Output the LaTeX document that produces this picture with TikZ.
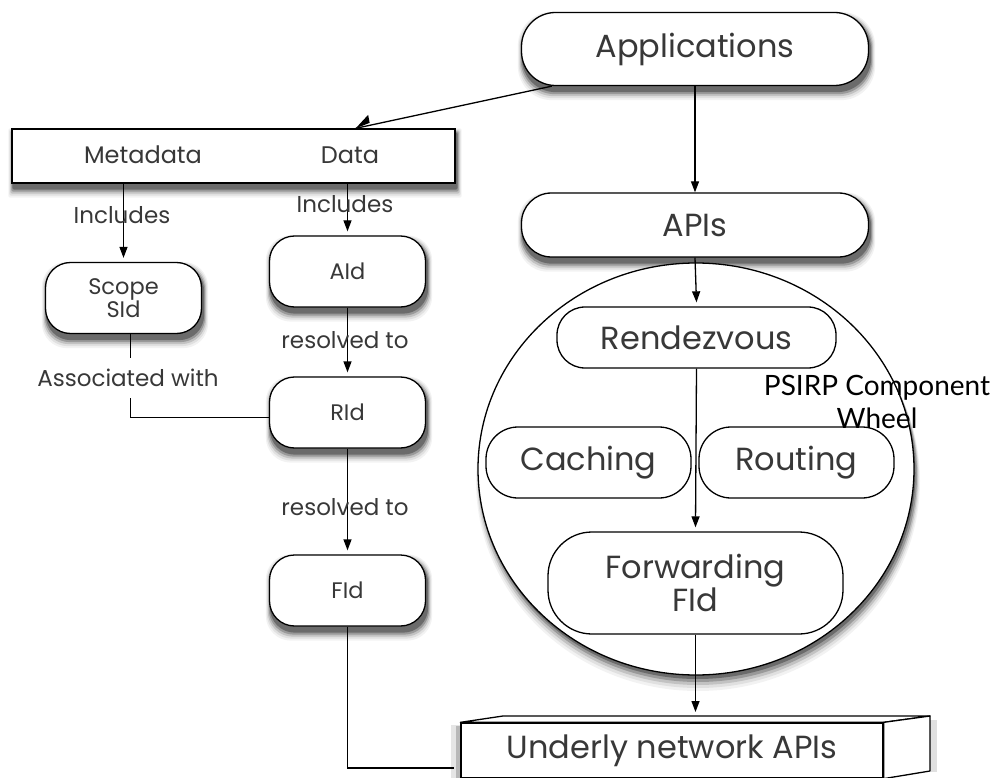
\documentclass[tikz,border=0pt]{standalone}
\usepackage{fontspec}
\setmainfont{Poppins}
\newfontfamily\wheelfont{Lato}
\usetikzlibrary{shapes.geometric,arrows.meta}

\definecolor{ink}{gray}{0.22}
\pgfdeclarelayer{shadowlayer}
\pgfsetlayers{shadowlayer,main}

% soft shadow under a rectangular node: node name, corner radius
\newcommand\castshadow[2]{%
  \fill[black!5, rounded corners=#2] ([shift={(-3,0)}]#1.north west) rectangle ([shift={(6,14)}]#1.south east);
  \fill[black!12, rounded corners=#2] ([shift={(-2,1)}]#1.north west) rectangle ([shift={(5,12)}]#1.south east);
  \fill[black!24, rounded corners=#2] ([shift={(-1,2)}]#1.north west) rectangle ([shift={(4,10)}]#1.south east);
  \fill[black!40, rounded corners=#2] ([shift={(0,3)}]#1.north west) rectangle ([shift={(3,8)}]#1.south east);
  \fill[black!58, rounded corners=#2] ([shift={(1,4)}]#1.north west) rectangle ([shift={(2,6)}]#1.south east);
}

\tikzset{
  line/.style={line width=1.3pt, draw=black},
  arrow/.style={line, -{Triangle[length=11pt,width=8pt]}},
  pill/.style={draw, line width=1.3pt, fill=white, text=ink, inner sep=0pt},
  bigpill/.style={pill, rounded corners=34pt, minimum width=347pt,
      font=\fontsize{32}{34}\selectfont},
  idbox/.style={pill, rounded corners=25pt, minimum width=156pt,
      minimum height=71pt, align=center, font=\fontsize{22.5}{23}\selectfont},
  inner/.style={pill, align=center, font=\fontsize{32}{33}\selectfont},
  small/.style={text=ink, inner sep=1pt, font=\fontsize{23}{24}\selectfont},
}

\begin{document}
\begin{tikzpicture}[x=1pt,y=-1pt]
\useasboundingbox (0,0) rectangle (991,778);

% top of the stack
\node[bigpill, minimum height=73pt] (app) at (695,49) {Applications};
\node[bigpill, minimum height=64pt, rounded corners=30pt] (apis) at (695,225) {APIs};

% metadata / data bar
\node[draw, line width=1.3pt, fill=white, minimum width=443pt,
      minimum height=54pt, inner sep=0pt] (meta) at (233.5,156) {};
\node[small, font=\fontsize{24}{24}\selectfont] (metatxt) at (143,155) {Metadata};
\node[small, font=\fontsize{24}{24}\selectfont] (datatxt) at (350,155) {Data};

% identifier chain
\node[idbox] (scope) at (123.5,298) {Scope\\SId};
\node[idbox] (aid) at (347.5,271.5) {AId};
\node[idbox] (rid) at (347.5,412.5) {RId};
\node[idbox] (fid) at (347.5,590.5) {FId};

% component wheel
\node[ellipse, draw, line width=1.3pt, fill=white,
      minimum width=436pt, minimum height=412pt] (wheel) at (696,469) {};
\node[inner, rounded corners=28pt, minimum width=279pt, minimum height=61pt]
      (rdv) at (696.5,337.5) {Rendezvous};
\node[inner, rounded corners=32pt, minimum width=205pt, minimum height=71pt]
      (cache) at (588.5,462.5) {Caching};
\node[inner, rounded corners=32pt, minimum width=195pt, minimum height=71pt]
      (route) at (796.5,462.5) {Routing};
\node[inner, rounded corners=44pt, minimum width=295pt, minimum height=102pt]
      (fwd) at (695.5,583) {Forwarding\\FId};
\node[inner sep=0pt, align=center, text=black,
      font=\wheelfont\fontsize{28}{33}\selectfont] (wheeltxt) at (877,402)
      {PSIRP Component\\Wheel};

% underlying network block
\coordinate (toprow) at (0,716);
\node[draw, line width=1.3pt, fill=white, minimum width=422pt, minimum height=55pt,
      inner sep=0pt, text=ink, font=\fontsize{32}{33}\selectfont]
      (net) at (672,750.5) {Underly network APIs};
\draw[line, fill=white, line join=round]
      (net.north west) -- (503,716) -- (930,716) -- (net.north east) -- cycle;
\draw[line, fill=white, line join=round]
      (net.north east) -- (930,716) -- (930,771) -- (net.south east) -- cycle;

% shadows beneath the framed shapes
\begin{pgfonlayer}{shadowlayer}
  \castshadow{app}{34pt}
  \castshadow{apis}{30pt}
  \castshadow{meta}{2pt}
  \castshadow{scope}{25pt}
  \castshadow{aid}{25pt}
  \castshadow{rid}{25pt}
  \castshadow{fid}{25pt}
  \fill[black!5]  ([shift={(2,12)}]wheel.center) ellipse [x radius=222, y radius=210];
  \fill[black!12] ([shift={(2,10)}]wheel.center) ellipse [x radius=221, y radius=209];
  \fill[black!24] ([shift={(2,8)}]wheel.center) ellipse [x radius=220, y radius=208];
  \fill[black!40] ([shift={(2,6)}]wheel.center) ellipse [x radius=219, y radius=207];
  \fill[black!58] ([shift={(1.5,4)}]wheel.center) ellipse [x radius=218, y radius=206];
  \fill[black!10] (451,725) rectangle (461,778);
  \fill[black!28] (456,726) rectangle (461,778);
  \fill[black!12] (930,720) rectangle (937,772);
\end{pgfonlayer}

% connectors
\draw[line] ([xshift=31pt]app.south west) -- ([xshift=-100pt]meta.north east);
\fill ([xshift=-100pt]meta.north east) -- ++(14,-5.5) -- ++(-1.5,-8) -- cycle;
\draw[arrow] (app.south) -- (apis.north);
\draw[arrow] (apis.south) -- ([yshift=4pt]rdv.north);
\draw[arrow] (rdv.south) -- ([yshift=4pt]fwd.north);
\draw[arrow] (fwd.south) -- ([yshift=4pt]fwd.south |- toprow);

\draw[arrow] (scope.north |- meta.south) -- ([yshift=4pt]scope.north);
\draw[arrow] (aid.north |- meta.south) -- ([yshift=4pt]aid.north);
\draw[arrow] (aid.south) -- ([yshift=4pt]rid.north);
\draw[arrow] (rid.south) -- ([yshift=4pt]fid.north);

\draw[line] ([xshift=7pt]scope.south) |- ([yshift=-5pt]rid.west);
\draw[line] (fid.south) |- ([xshift=-6pt,yshift=-17.5pt]net.west);

% connector labels
\node[small] (inc1) at (122,215) {Includes};
\node[small] (inc2) at (345,204) {Includes};
\node[small] (res1) at (345,340) {resolved to};
\node[small] (res2) at (345,507) {resolved to};
\node[small, fill=white, inner xsep=2pt, inner ysep=11pt] (assoc) at (128,378)
      {Associated with};
\end{tikzpicture}
\end{document}
